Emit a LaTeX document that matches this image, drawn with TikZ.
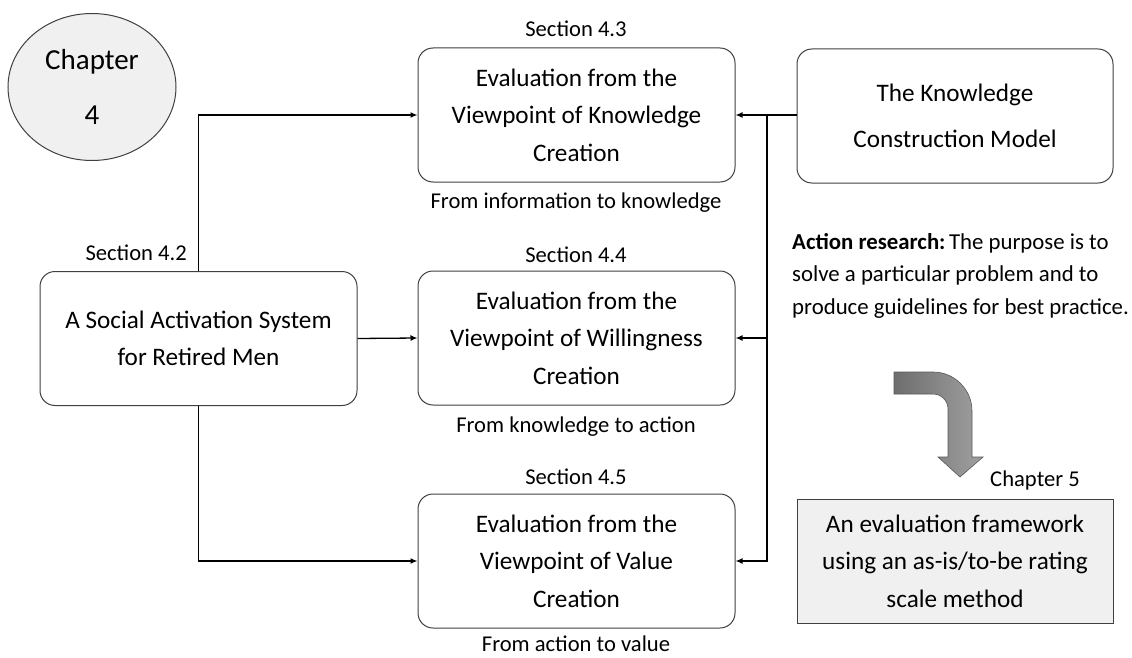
\documentclass[tikz,border=0pt]{standalone}
\usepackage{fontspec}
\setmainfont{Carlito}
\usetikzlibrary{arrows.meta,shapes.geometric}
\definecolor{boxline}{HTML}{404040}
\definecolor{softfill}{HTML}{F0F0F0}
\definecolor{arrowdark}{HTML}{6E6E6E}
\definecolor{arrowlight}{HTML}{A0A0A0}
\tikzset{
  stagebox/.style={draw=boxline, line width=1pt, rounded corners=15pt, fill=white,
    minimum width=317pt, minimum height=134pt, align=center, inner sep=0pt,
    font=\fontsize{25.2}{37.5}\selectfont},
  label/.style={inner sep=0pt, font=\fontsize{22.6}{26}\selectfont},
  link/.style={line width=1.3pt, draw=black},
  arr/.style={link, -{Latex[length=7pt,width=6pt]}}
}
\begin{document}
\begin{tikzpicture}[x=1pt,y=-1pt]
\useasboundingbox (0,0) rectangle (1132,658);

% chapter badge
\node[ellipse, draw=boxline, line width=1pt, fill=softfill, minimum width=168pt,
  minimum height=147pt, inner sep=0pt, align=center,
  font=\fontsize{29}{55}\selectfont] (ch4) at (92,87) {Chapter\\4};

% main stages
\node[stagebox] (sys) at (198.5,338.5) {A Social Activation System\\for Retired Men};
\node[stagebox] (kc) at (576.5,115) {Evaluation from the\\Viewpoint of Knowledge\\Creation};
\node[stagebox] (wc) at (576.5,338) {Evaluation from the\\Viewpoint of Willingness\\Creation};
\node[stagebox] (vc) at (576.5,561) {Evaluation from the\\Viewpoint of Value\\Creation};
\node[stagebox, minimum width=316pt, font=\fontsize{25.2}{46}\selectfont] (kcm) at (955,116)
  {The Knowledge\\Construction Model};

% section labels and captions
\node[label, anchor=east] (s42) at (187,253) {Section 4.2};
\node[label] (s43) at (576,29) {Section 4.3};
\node[label] (s44) at (576,255) {Section 4.4};
\node[label] (s45) at (576,477) {Section 4.5};
\node[label] (c43) at (576,203) {From information to knowledge};
\node[label] (c44) at (576,427) {From knowledge to action};
\node[label] (c45) at (576,644) {From action to value};

% action research note
\node[anchor=north west, inner sep=0pt, align=left, font=\fontsize{22.8}{32.5}\selectfont]
  (note) at (792,233) {\textbf{Action research:}\hspace{-0.15em} The purpose is to\\solve a particular problem and to\\produce guidelines for best practice.};

% outcome
\node[draw=boxline, line width=1pt, fill=softfill, minimum width=316pt, minimum height=124pt,
  inner sep=0pt, align=center, font=\fontsize{25.2}{37.5}\selectfont] (fw) at (955,561)
  {An evaluation framework\\using an as-is/to-be rating\\scale method};
\node[label] (ch5) at (1035,480) {Chapter 5};

% connectors from the system
\draw[arr] (sys.north) |- (kc.west);
\draw[arr] (sys.east) -- (wc.west);
\draw[arr] (sys.south) |- (vc.west);

% connectors from the model
\coordinate (hub) at (767,115);
\draw[arr] (hub) -- (kc.east);
\draw[link] (kcm.west |- hub) -- (hub);
\draw[arr] (hub) |- (vc.east);
\draw[arr] (hub |- wc.east) -- (wc.east);

% bent arrow towards the outcome
\draw[draw=arrowdark!80!black, line width=0.6pt, left color=arrowdark, right color=arrowlight]
  (894,372) -- (933,372) .. controls (954.5,372) and (972,389.5) .. (972,411) -- (972,457)
  -- (983,457) -- (960,477) -- (938,457) -- (948,457) -- (948,409)
  .. controls (948,400.7) and (941.3,394) .. (933,394) -- (894,394) -- cycle;
\end{tikzpicture}
\end{document}
